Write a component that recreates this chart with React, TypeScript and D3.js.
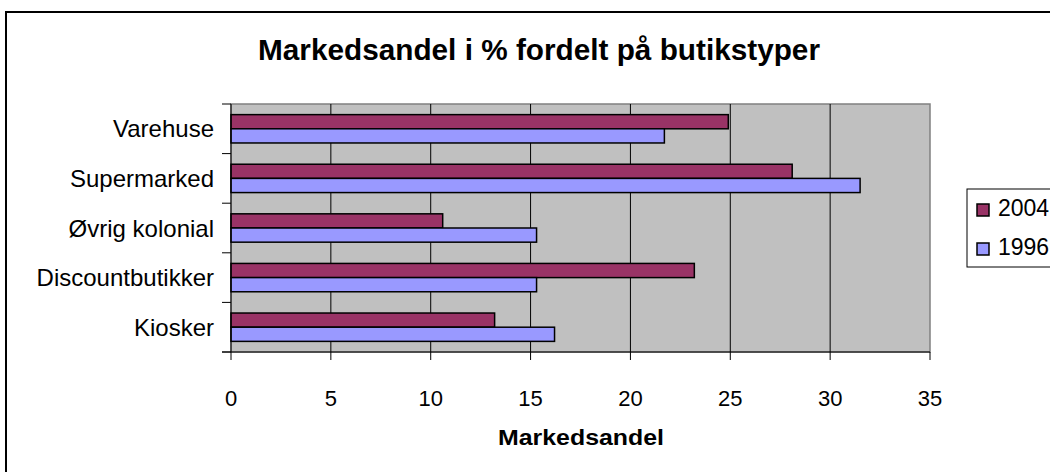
import React from "react";
import * as d3 from "d3";

const categories = ["Varehuse", "Supermarked", "Øvrig kolonial", "Discountbutikker", "Kiosker"];
const seriesNames = ["2004", "1996"];
const values2004 = [24.9, 28.1, 10.6, 23.2, 13.2];
const values1996 = [21.7, 31.5, 15.3, 15.3, 16.2];
const xTicks = [0, 5, 10, 15, 20, 25, 30, 35];

const colors: Record<string, string> = { "2004": "#993366", "1996": "#9999ff" };
const font = "'Liberation Sans', Arial, sans-serif";

const W = 1050;
const H = 472;
const plot = { left: 231, right: 930, top: 104, bottom: 352 };

export default function App() {
  // Scales
  const x = d3.scaleLinear().domain([0, 35]).range([plot.left, plot.right]);
  // Excel gap width 150% -> step = 3.5 bar widths
  const y = d3
    .scaleBand<string>()
    .domain(categories)
    .range([plot.top, plot.bottom])
    .paddingInner(1.5 / 3.5)
    .paddingOuter(0.75 / 3.5);
  const ySeries = d3.scaleBand<string>().domain(seriesNames).range([0, y.bandwidth()]);

  const step = y.step();
  const boundaries = d3.range(categories.length + 1).map((i) => plot.top + i * step);

  const rows = categories.map((c, i) => ({
    cat: c,
    vals: [
      { s: "2004", v: values2004[i] },
      { s: "1996", v: values1996[i] },
    ],
  }));

  return (
    <svg
      width={W}
      height={H}
      style={{ position: "absolute", left: 0, top: 0, background: "#fff" }}
    >
      {/* outer chart border */}
      <rect x={6} y={12} width={1100} height={520} fill="#fff" stroke="#000" strokeWidth={2} />

      <text
        x={539}
        y={60}
        textAnchor="middle"
        fontFamily={font}
        fontWeight="bold"
        fontSize={29}
        textLength={562}
        lengthAdjust="spacingAndGlyphs"
      >
        Markedsandel i % fordelt på butikstyper
      </text>

      {/* plot area */}
      <rect
        x={plot.left}
        y={plot.top}
        width={plot.right - plot.left}
        height={plot.bottom - plot.top}
        fill="#c0c0c0"
        stroke="#808080"
        strokeWidth={1.5}
      />
      {xTicks.slice(1, -1).map((t) => (
        <line
          key={"g" + t}
          x1={x(t)}
          x2={x(t)}
          y1={plot.top}
          y2={plot.bottom}
          stroke="#000"
          strokeWidth={1}
        />
      ))}

      {/* bars */}
      {rows.map((r) => (
        <g key={r.cat} transform={`translate(0,${y(r.cat)})`}>
          {r.vals.map((d) => (
            <rect
              key={d.s}
              x={x(0)}
              y={ySeries(d.s)}
              width={x(d.v) - x(0)}
              height={ySeries.bandwidth()}
              fill={colors[d.s]}
              stroke="#000"
              strokeWidth={1.5}
            />
          ))}
        </g>
      ))}

      {/* axes */}
      <line x1={plot.left} x2={plot.left} y1={plot.top} y2={plot.bottom} stroke="#000" />
      <line x1={plot.left - 9} x2={plot.right} y1={plot.bottom} y2={plot.bottom} stroke="#000" />
      {boundaries.map((b, i) => (
        <line key={"yt" + i} x1={plot.left - 9} x2={plot.left} y1={b} y2={b} stroke="#000" />
      ))}
      {xTicks.map((t) => (
        <g key={"xt" + t}>
          <line x1={x(t)} x2={x(t)} y1={plot.bottom} y2={plot.bottom + 8} stroke="#000" />
          <text x={x(t)} y={406} textAnchor="middle" fontFamily={font} fontSize={22}>
            {t}
          </text>
        </g>
      ))}
      {categories.map((c) => (
        <text
          key={"cl" + c}
          x={214}
          y={(y(c) as number) + y.bandwidth() / 2}
          dy="0.36em"
          textAnchor="end"
          fontFamily={font}
          fontSize={24}
        >
          {c}
        </text>
      ))}

      <text
        x={581}
        y={445}
        textAnchor="middle"
        fontFamily={font}
        fontWeight="bold"
        fontSize={22}
        textLength={166}
        lengthAdjust="spacingAndGlyphs"
      >
        Markedsandel
      </text>

      {/* legend */}
      <rect x={967} y={189} width={120} height={78} fill="#fff" stroke="#000" />
      {seriesNames.map((s, i) => (
        <g key={"lg" + s} transform={`translate(977,${204 + i * 39})`}>
          <rect width={12} height={12} fill={colors[s]} stroke="#000" strokeWidth={1.5} />
          <text x={21} y={12} fontFamily={font} fontSize={23}>
            {s}
          </text>
        </g>
      ))}
    </svg>
  );
}
